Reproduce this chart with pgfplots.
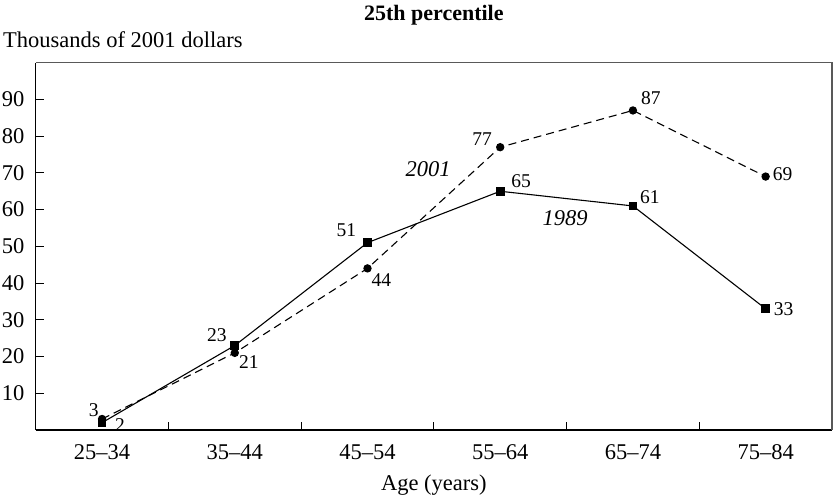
\documentclass[border=0pt]{standalone}
\usepackage{pgfplots}
\pgfplotsset{compat=1.18}
\usepackage{fontspec}
\setmainfont{Liberation Serif}
\begin{document}
\begin{tikzpicture}
\begin{axis}[
  name=ax,
  scale only axis,
  width=796.3pt, height=367.3pt,
  xmin=-0.5, xmax=5.5, ymin=0, ymax=100,
  axis x line*=bottom, axis y line*=left,
  axis line style={-},
  x axis line style={line width=1.8pt},
  y axis line style={line width=1.3pt},
  tick align=inside,
  xtick={0,1,2,3,4,5},
  xticklabels={25--34,35--44,45--54,55--64,65--74,75--84},
  major x tick style={draw=none},
  minor xtick={0.5,1.5,2.5,3.5,4.5},
  minor tick length=8pt,
  minor x tick style={line width=1pt,black},
  ytick={10,20,30,40,50,60,70,80,90},
  yticklabels={10,20,30,40,50,60,70,80,90},
  major tick length=8pt,
  y tick style={line width=1pt,black},
  ticklabel style={font=\fontsize{22.5}{24}\selectfont, inner sep=0pt},
  xticklabel style={yshift=-14pt},
  yticklabel style={xshift=-11pt},
  clip=false,
]
\addplot[black, line width=1.1pt, mark=square*, mark size=3.8pt, mark options={solid}]
  coordinates {(0,2) (1,23) (2,51) (3,65) (4,61) (5,33)};
\addplot[black, line width=1.1pt, dash pattern=on 8pt off 5pt, mark=*, mark size=3.6pt, mark options={solid}]
  coordinates {(0,3) (1,21) (2,44) (3,77) (4,87) (5,69)};
% value labels 1989
\begin{scope}[every node/.style={font=\fontsize{19.5}{21}\selectfont, inner sep=0pt}]
\node at (axis cs:0,2)  [xshift=18pt, yshift=-2pt] {2};
\node at (axis cs:1,23) [xshift=-18pt, yshift=10pt] {23};
\node at (axis cs:2,51) [xshift=-21pt, yshift=12.6pt] {51};
\node at (axis cs:3,65) [xshift=21pt, yshift=10pt] {65};
\node at (axis cs:4,61) [xshift=17pt, yshift=9pt] {61};
\node at (axis cs:5,33) [xshift=18pt, yshift=0pt] {33};
% value labels 2001
\node at (axis cs:0,3)  [xshift=-8.4pt, yshift=9pt] {3};
\node at (axis cs:1,21) [xshift=14pt, yshift=-8.7pt] {21};
\node at (axis cs:2,44) [xshift=14pt, yshift=-11.6pt] {44};
\node at (axis cs:3,77) [xshift=-18pt, yshift=8pt] {77};
\node at (axis cs:4,87) [xshift=18pt, yshift=12pt] {87};
\node at (axis cs:5,69) [xshift=17pt, yshift=2pt] {69};
\end{scope}
\node[font=\fontsize{22.5}{24}\selectfont\itshape, inner sep=0pt] at (axis cs:2.457,71.1) {2001};
\node[font=\fontsize{22.5}{24}\selectfont\itshape, inner sep=0pt] at (axis cs:3.49,57.7) {1989};
\draw[gray!70!black, line width=1.1pt] (rel axis cs:0,1) -- (rel axis cs:1,1) -- (rel axis cs:1,0);
\node[font=\fontsize{22}{24}\selectfont\bfseries, inner sep=0pt] at ([yshift=47.7pt]rel axis cs:0.5,1) {25th percentile};
\node[font=\fontsize{22.5}{24}\selectfont, inner sep=0pt, anchor=west] at ([xshift=-32.7pt, yshift=22.7pt]rel axis cs:0,1) {Thousands of 2001 dollars};
\node[font=\fontsize{22.5}{24}\selectfont, inner sep=0pt] at ([yshift=-55pt]rel axis cs:0.5,0) {Age (years)};
\end{axis}
\pgfresetboundingbox
\path (ax.south west) ++(-35.7pt,-68pt) rectangle ++(833pt,498pt);
\end{tikzpicture}
\end{document}
